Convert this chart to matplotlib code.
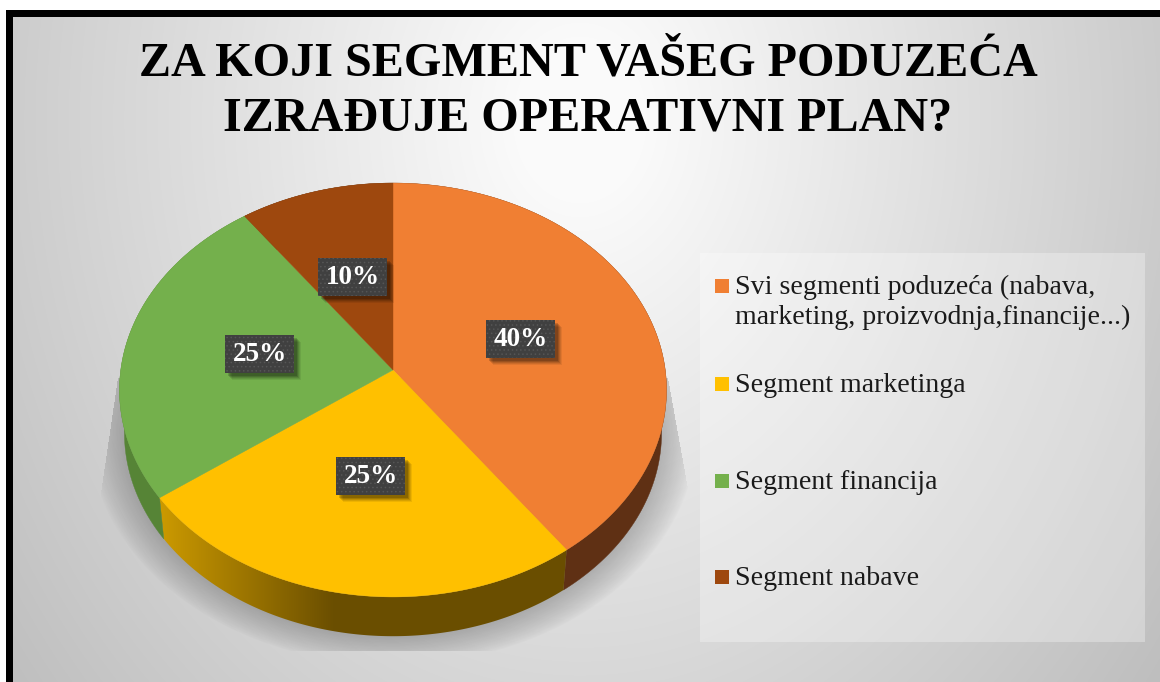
import numpy as np
import matplotlib
matplotlib.use("Agg")
import matplotlib.pyplot as plt
from matplotlib.patches import Rectangle, Polygon

plt.rcParams['hatch.linewidth'] = 0.6
SERIF = ['Liberation Serif', 'DejaVu Serif']

title = "ZA KOJI SEGMENT VAŠEG PODUZEĆA\nIZRAĐUJE OPERATIVNI PLAN?"
categories = ["Svi segmenti poduzeća (nabava,\nmarketing, proizvodnja,financije...)",
              "Segment marketinga", "Segment financija", "Segment nabave"]
values = [40, 25, 25, 10]
colors = ["#F07F33", "#FFC000", "#74B04C", "#9E480E"]
side_colors = ["#5F3014", "#6A4E00", "#568436", "#5B2A08"]
legend_rows = [279, 377, 474, 570]

W, H = 1160, 682
fig = plt.figure(figsize=(W / 100, H / 100), dpi=100, facecolor="white")
ax = fig.add_axes([0, 0, 1, 1])
ax.set_xlim(0, W)
ax.set_ylim(H, 0)
ax.axis("off")

# background
X, Y = np.meshgrid(np.arange(W) + .5, np.arange(H) + .5)
r = np.hypot(X - 580, (Y - 120) * 0.8)
grey = np.clip(256 - 63 * r / 700, 0, 250) / 255
img = np.dstack([grey, grey, grey])
ax.imshow(img, extent=(0, W, H, 0), aspect="auto", zorder=0)

# frame
ax.add_patch(Rectangle((0, 0), W, 10, fc="white", ec="none", zorder=1))
ax.add_patch(Rectangle((0, 0), 6, H, fc="white", ec="none", zorder=1))
ax.add_patch(Rectangle((6, 10), W, 7, fc="black", ec="none", zorder=1))
ax.add_patch(Rectangle((6, 10), 7, H, fc="black", ec="none", zorder=1))

# legend panel
ax.add_patch(Rectangle((700, 253), 445, 389, fc="white", ec="none", alpha=0.3, zorder=2))

# pie drop shadow
e = np.hypot((X - 393) / 305, (Y - 430) / 235)
sh = 0.27 * np.clip((1 - e) / 0.15, 0, 1) ** 0.8
ramp = np.clip((Y - 378) / 122, 0, 1)
sh[(Y < 378) | (Y > 651)] = 0
sh[X < 118 - 18 * ramp] = 0
sh[X > 668 + 22 * ramp] = 0
rgba = np.zeros((H, W, 4))
rgba[..., 3] = sh
ax.imshow(rgba, extent=(0, W, H, 0), aspect="auto", zorder=3)
ax.set_xlim(0, W)
ax.set_ylim(H, 0)

# perspective pie
CX, CY, BX, BY, K = 393.0, 370.0, 272.2, 205.0, 0.0966


def top(theta, rad=1.0):
    u, v = rad * np.sin(theta), rad * np.cos(theta)
    d = 1 + K * v
    return CX + BX * u / d, CY - BY * v / d


def bottom(theta):
    x, y = top(theta)
    return CX + (x - CX) * 0.982, 390 + (y - 390) * 0.982 + 43


edges = np.cumsum([0] + values) / sum(values) * 2 * np.pi
for i in range(len(values)):
    t = np.linspace(edges[i], edges[i + 1], 200)
    xt, yt = top(t)
    xb, yb = bottom(t)
    side = np.column_stack([np.r_[xt, xb[::-1]], np.r_[yt, yb[::-1]]])
    if i == 1:
        poly = Polygon(side, closed=True, fc="none", ec="none", zorder=4)
        ax.add_patch(poly)
        a = np.array(matplotlib.colors.to_rgb("#CC9A00"))
        b = np.array(matplotlib.colors.to_rgb(side_colors[1]))
        f = np.clip((X[0] - 160) / 175, 0, 1)[None, :, None]
        grad = ax.imshow(a * (1 - f) + b * f, extent=(0, W, H, 0), aspect="auto", zorder=4)
        grad.set_clip_path(poly)
    else:
        ax.fill(side[:, 0], side[:, 1], color=side_colors[i], lw=0.3, zorder=4)
ax.set_xlim(0, W)
ax.set_ylim(H, 0)

for i in range(len(values)):
    t = np.linspace(edges[i], edges[i + 1], 200)
    xt, yt = top(t)
    ax.fill(np.r_[CX, xt], np.r_[CY, yt], color=colors[i], lw=0.3, zorder=5)

# data labels
BOXW, BOXH = 69, 38
for i, val in enumerate(values):
    m = (edges[i] + edges[i + 1]) / 2
    x, y = top(m, 0.5)
    for off, al in ((7, .07), (6, .09), (5, .11), (4, .14), (3, .16)):
        ax.add_patch(Rectangle((x - BOXW / 2 + off, y - BOXH / 2 + off), BOXW, BOXH,
                               fc="black", ec="none", alpha=al, zorder=6))
    ax.add_patch(Rectangle((x - BOXW / 2, y - BOXH / 2), BOXW, BOXH, fc="#404040",
                           ec="#555555", hatch="....", lw=0, zorder=7))
    ax.text(x, y + 0.5, f"{val}%", color="white", family=SERIF, fontweight="bold",
            fontsize=19.5, ha="center", va="center", zorder=8)

# title
ax.text(588, 91, title, family=SERIF, fontweight="bold", fontsize=34.7, color="black",
        ha="center", va="center", linespacing=1.3, zorder=9)

# legend
for c, lab, y in zip(colors, categories, legend_rows):
    ax.add_patch(Rectangle((715, y), 14, 14, fc=c, ec="none", zorder=9))
    ax.text(735, y - 4, lab, family=SERIF, fontsize=20.1, color="#1a1a1a",
            ha="left", va="top", linespacing=1.25, zorder=9)

fig.savefig("out.png", dpi=100)
